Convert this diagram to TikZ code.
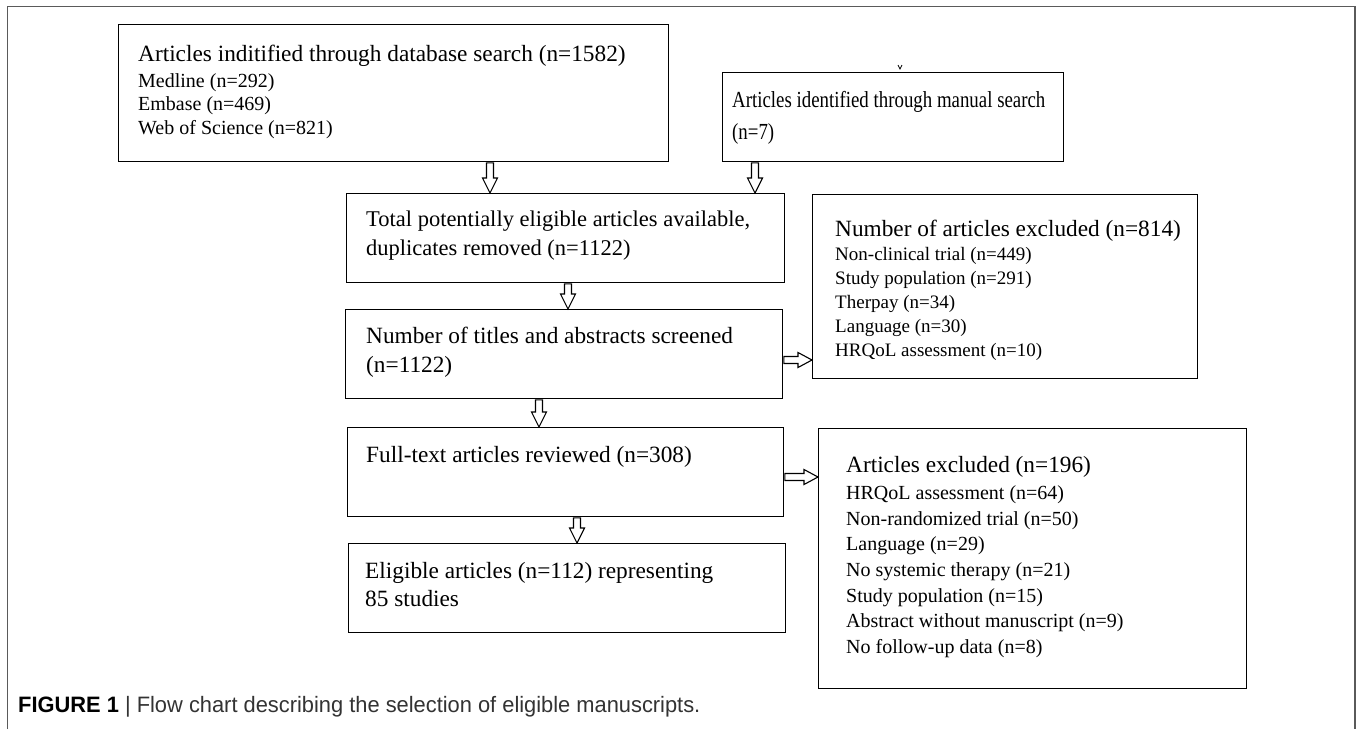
\documentclass[tikz,border=0pt]{standalone}
\usepackage{fontspec}
\setmainfont{Liberation Serif}
\newfontfamily\condserif[FakeStretch=0.82]{Liberation Serif}
\newfontfamily\capfont[FakeStretch=0.98]{Liberation Sans}
\usetikzlibrary{calc}
\definecolor{framegray}{HTML}{5A5A5A}
\definecolor{capgray}{HTML}{333333}
\newcommand\vblock[3]{%
  \draw[harrow] ($(#1.south -| #3)+(-3.5,-0.6)$) -- ($(#2.north -| #3)+(-3.5,15)$) -- ($(#2.north -| #3)+(-7.5,15)$) -- (#2.north -| #3) -- ($(#2.north -| #3)+(7.5,15)$) -- ($(#2.north -| #3)+(3.5,15)$) -- ($(#1.south -| #3)+(3.5,-0.6)$) -- cycle;}
\newcommand\hblock[3]{%
  \draw[harrow] ($(#1.east |- #3)+(0.6,3.5)$) -- ($(#2.west |- #3)+(-14,3.5)$) -- ($(#2.west |- #3)+(-14,7.5)$) -- (#2.west |- #3) -- ($(#2.west |- #3)+(-14,-7.5)$) -- ($(#2.west |- #3)+(-14,-3.5)$) -- ($(#1.east |- #3)+(0.6,-3.5)$) -- cycle;}
\begin{document}
\begin{tikzpicture}[x=1pt,y=1pt,
  box/.style={draw=black, line width=1.3pt, rectangle, inner sep=0pt, anchor=north west},
  txt/.style={anchor=base west, inner sep=0pt, font=\fontsize{23.3}{27}\selectfont},
  sub/.style={anchor=base west, inner sep=0pt, font=\fontsize{20}{24}\selectfont},
  harrow/.style={draw=black, fill=white, line width=1.1pt, line join=miter},
  frameline/.style={draw=framegray, line width=1.5pt}]
\useasboundingbox (0,0) rectangle (1358,-729);
\fill[white] (0,0) rectangle (1358,-729);
\draw[frameline] (7.5,-729) -- (7.5,-6.5) -- (1355,-6.5) -- (1355,-729);

% boxes
\node[box, minimum width=550, minimum height=137] (b1) at (118,-24) {};
\node[box, minimum width=341, minimum height=89] (b2) at (722,-72) {};
\node[box, minimum width=438, minimum height=89] (b3) at (346,-193) {};
\node[box, minimum width=437, minimum height=89] (b4) at (345,-309) {};
\node[box, minimum width=385, minimum height=184] (b5) at (812,-194) {};
\node[box, minimum width=436, minimum height=89] (b6) at (347,-427) {};
\node[box, minimum width=437, minimum height=89] (b7) at (348,-543) {};
\node[box, minimum width=428, minimum height=260] (b8) at (818,-428) {};

% texts
\node[txt] (t1) at (138,-61.5) {Articles inditified through database search (n=1582)};
\node[sub] (t1a) at (138,-87) {Medline (n=292)};
\node[sub] (t1b) at (138,-110.5) {Embase (n=469)};
\node[sub] (t1c) at (138,-134) {Web of Science (n=821)};

\node[txt, font=\condserif\fontsize{23}{27}\selectfont] (t2) at (732,-107) {Articles identified through manual search};
\node[txt, font=\condserif\fontsize{23}{27}\selectfont] (t2b) at (732,-139) {(n=7)};

\node[txt, font=\fontsize{22.5}{27}\selectfont] (t3) at (366,-226) {Total potentially eligible articles available,};
\node[txt, font=\fontsize{22.5}{27}\selectfont] (t3b) at (366,-255) {duplicates removed (n=1122)};

\node[txt] (t4) at (366,-343) {Number of titles and abstracts screened};
\node[txt] (t4b) at (366,-372) {(n=1122)};

\node[txt] (t5) at (835,-236) {Number of articles excluded (n=814)};
\node[sub, font=\fontsize{19}{23}\selectfont] (t5a) at (835,-260) {Non-clinical trial (n=449)};
\node[sub, font=\fontsize{19}{23}\selectfont] (t5b) at (835,-284) {Study population (n=291)};
\node[sub, font=\fontsize{19}{23}\selectfont] (t5c) at (835,-308) {Therpay (n=34)};
\node[sub, font=\fontsize{19}{23}\selectfont] (t5d) at (835,-332) {Language (n=30)};
\node[sub, font=\fontsize{19}{23}\selectfont] (t5e) at (835,-356) {HRQoL assessment (n=10)};

\node[txt] (t6) at (366,-462) {Full-text articles reviewed (n=308)};

\node[txt] (t7) at (365,-578) {Eligible articles (n=112) representing};
\node[txt] (t7b) at (365,-606) {85 studies};

\node[txt] (t8) at (846,-472) {Articles excluded (n=196)};
\node[sub] (t8a) at (846,-499) {HRQoL assessment (n=64)};
\node[sub] (t8b) at (846,-525) {Non-randomized trial (n=50)};
\node[sub] (t8c) at (846,-550.5) {Language (n=29)};
\node[sub] (t8d) at (846,-576) {No systemic therapy (n=21)};
\node[sub] (t8e) at (846,-602) {Study population (n=15)};
\node[sub] (t8f) at (846,-627.5) {Abstract without manuscript (n=9)};
\node[sub] (t8g) at (846,-653) {No follow-up data (n=8)};

% arrow positions
\coordinate (xa1) at (490,0);
\coordinate (xa2) at (755,0);
\coordinate (xa3) at (568,0);
\coordinate (xa4) at (539,0);
\coordinate (xa5) at (577,0);
\coordinate (ya6) at (0,-360);
\coordinate (ya7) at (0,-477);

\vblock{b1}{b3}{xa1}
\vblock{b2}{b3}{xa2}
\vblock{b3}{b4}{xa3}
\vblock{b4}{b6}{xa4}
\vblock{b6}{b7}{xa5}
\hblock{b4}{b5}{ya6}
\hblock{b6}{b8}{ya7}

% small mark above manual-search box
\coordinate (tick) at ($(b2.north west)+(178,3)$);
\draw[line width=0.7pt] ($(tick)+(-2,4)$) -- (tick) -- ($(tick)+(2,4)$);

% caption
\node[anchor=base west, inner sep=0pt, text=capgray, font=\capfont\fontsize{22.3}{26}\selectfont] (cap) at (18,-712)
  {\textcolor{black}{\textbf{FIGURE 1}} | Flow chart describing the selection of eligible manuscripts.};
\end{tikzpicture}
\end{document}
